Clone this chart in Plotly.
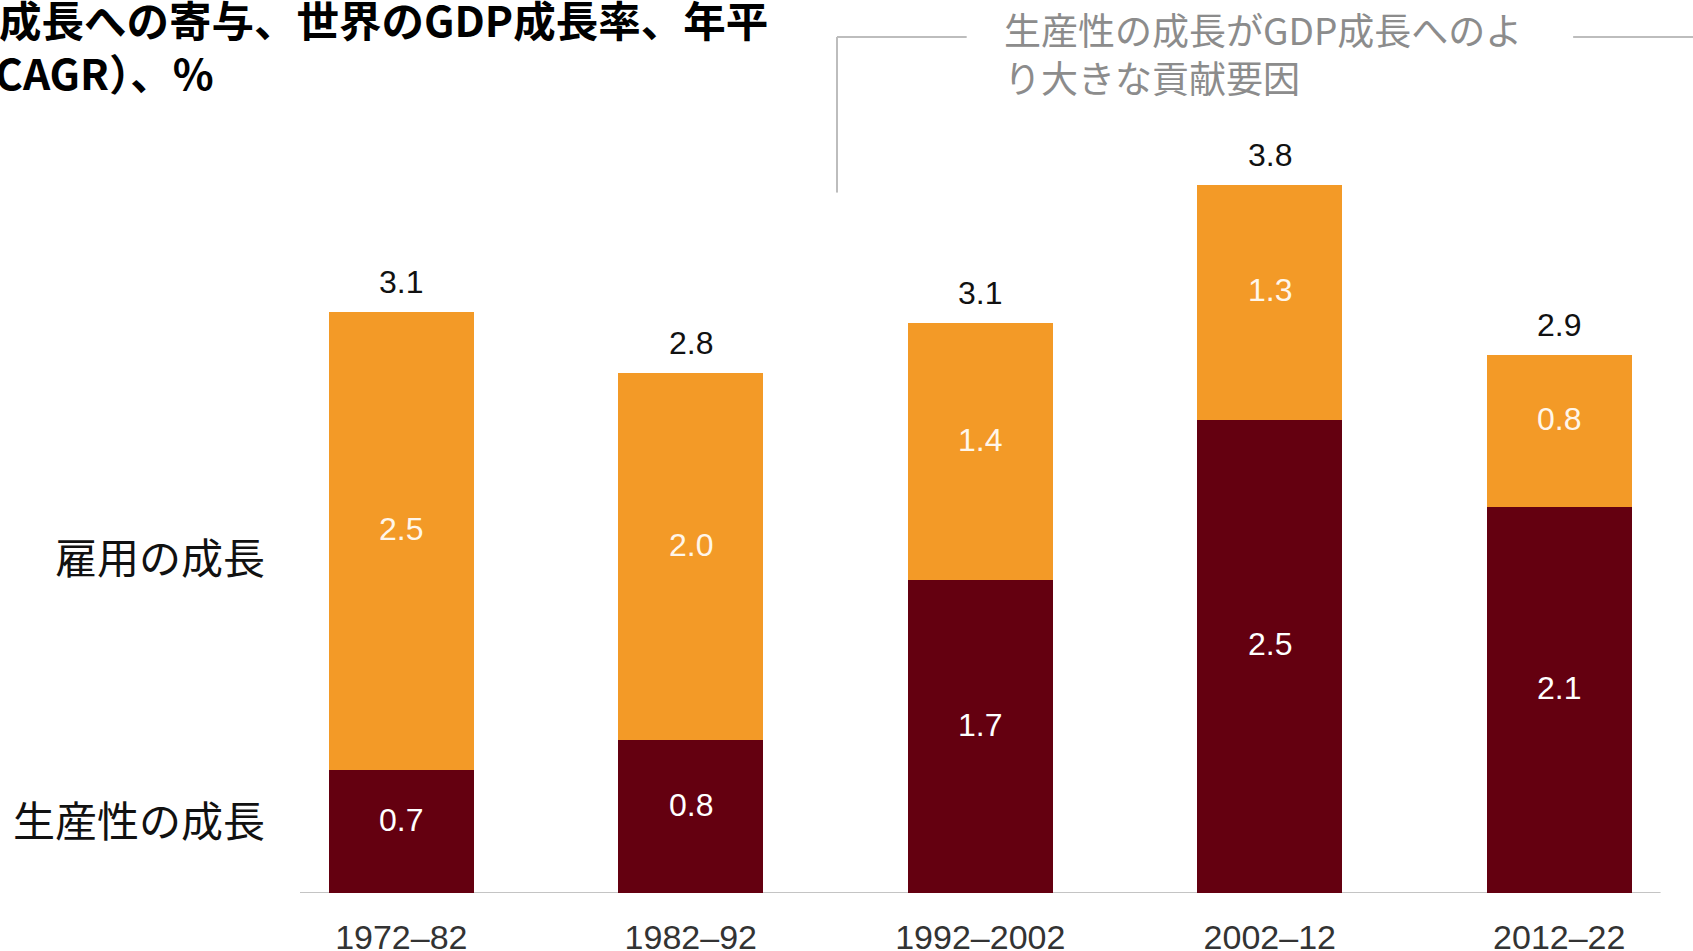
import plotly.graph_objects as go

# ---- data ----
periods = ["1972–82", "1982–92", "1992–2002", "2002–12", "2012–22"]
productivity = [0.66, 0.82, 1.68, 2.54, 2.07]
employment = [2.46, 1.97, 1.38, 1.26, 0.82]
series_names = ["生産性の成長", "雇用の成長"]
series_label_y = [0.40, 1.81]
title_lines = ["成長への寄与、世界のGDP成長率、年平", "CAGR）、%"]
note_text = "生産性の成長がGDP成長へのよ<br>り大きな貢献要因"

# ---- style ----
ORANGE = "#F39A27"
DARK = "#640010"
W, H = 1693, 951
ML, MR, MT, MB = 300, 0, 10, 58
NUM_FONT = "Liberation Sans, Arial, sans-serif"
CJK_FONT = "Noto Sans CJK JP, sans-serif"


def py(p):
    return (H - MB - p) / (H - MB - MT)


fig = go.Figure()
fig.add_trace(go.Bar(x=periods, y=productivity, marker=dict(color=DARK, line=dict(width=0)),
                     name=series_names[0], hoverinfo="skip"))
fig.add_trace(go.Bar(x=periods, y=employment, marker=dict(color=ORANGE, line=dict(width=0)),
                     name=series_names[1], hoverinfo="skip"))

ann = []
for i, p in enumerate(periods):
    pv, ev = productivity[i], employment[i]
    ann.append(dict(x=p, y=pv / 2, xref="x", yref="y", text=f"{pv:.1f}", showarrow=False,
                    yshift=12, font=dict(family=NUM_FONT, size=32, color="white")))
    ann.append(dict(x=p, y=pv + ev / 2, xref="x", yref="y", text=f"{ev:.1f}", showarrow=False,
                    yshift=12, font=dict(family=NUM_FONT, size=32, color="#FFF6EA")))
    ann.append(dict(x=p, y=pv + ev, xref="x", yref="y", text=f"{pv + ev:.1f}", showarrow=False,
                    yshift=30, yanchor="middle",
                    font=dict(family=NUM_FONT, size=32, color="#111111")))

for name, yv in zip(series_names, series_label_y):
    ann.append(dict(x=0, y=yv, xref="paper", yref="y", text=name, showarrow=False,
                    xanchor="right", xshift=-33, yanchor="middle",
                    font=dict(family=CJK_FONT, size=42, color="#111111")))

ann.append(dict(x=0, y=py(19), xref="paper", yref="paper", text=title_lines[0], showarrow=False,
                xanchor="left", xshift=-ML - 3, yanchor="middle",
                font=dict(family=CJK_FONT, size=42.5, color="#000000", weight="bold")))
ann.append(dict(x=0, y=py(71), xref="paper", yref="paper", text=title_lines[1], showarrow=False,
                xanchor="left", xshift=-ML - 7, yanchor="middle",
                font=dict(family=CJK_FONT, size=42.5, color="#000000", weight="bold")))
ann.append(dict(x=0, y=py(53), xref="paper", yref="paper", text=note_text, showarrow=False,
                xanchor="left", xshift=1002 - ML, yanchor="middle", align="left",
                font=dict(family=CJK_FONT, size=37, color="#8C8C8C")))

line_style = dict(color="#BDBDBD", width=2)
shapes = [
    dict(type="line", xref="x", yref="y", x0=-0.35, x1=4.35, y0=0, y1=0,
         line=dict(color="#C4C4C4", width=2), layer="below"),
    dict(type="line", xref="x", yref="y", x0=1.505, x1=1.505, y0=3.76, y1=4.595, line=line_style),
    dict(type="line", xref="x", yref="y", x0=1.505, x1=1.953, y0=4.595, y1=4.595, line=line_style),
    dict(type="line", xref="x", yref="y", x0=4.048, x1=4.47, y0=4.595, y1=4.595, line=line_style),
]

fig.update_layout(
    width=W, height=H,
    margin=dict(l=ML, r=MR, t=MT, b=MB, autoexpand=False),
    barmode="stack", bargap=0.5,
    showlegend=False,
    plot_bgcolor="white", paper_bgcolor="white",
    annotations=ann, shapes=shapes,
    xaxis=dict(range=[-0.35, 4.462], showgrid=False, zeroline=False, showline=False,
               ticks="outside", ticklen=14, tickcolor="rgba(0,0,0,0)",
               tickfont=dict(family=NUM_FONT, size=34, color="#333333"), fixedrange=True),
    yaxis=dict(range=[0, 4.74], visible=False, fixedrange=True),
)

fig.write_html("out.html", config={"displayModeBar": False},
               post_script="document.body.style.margin='0';")
